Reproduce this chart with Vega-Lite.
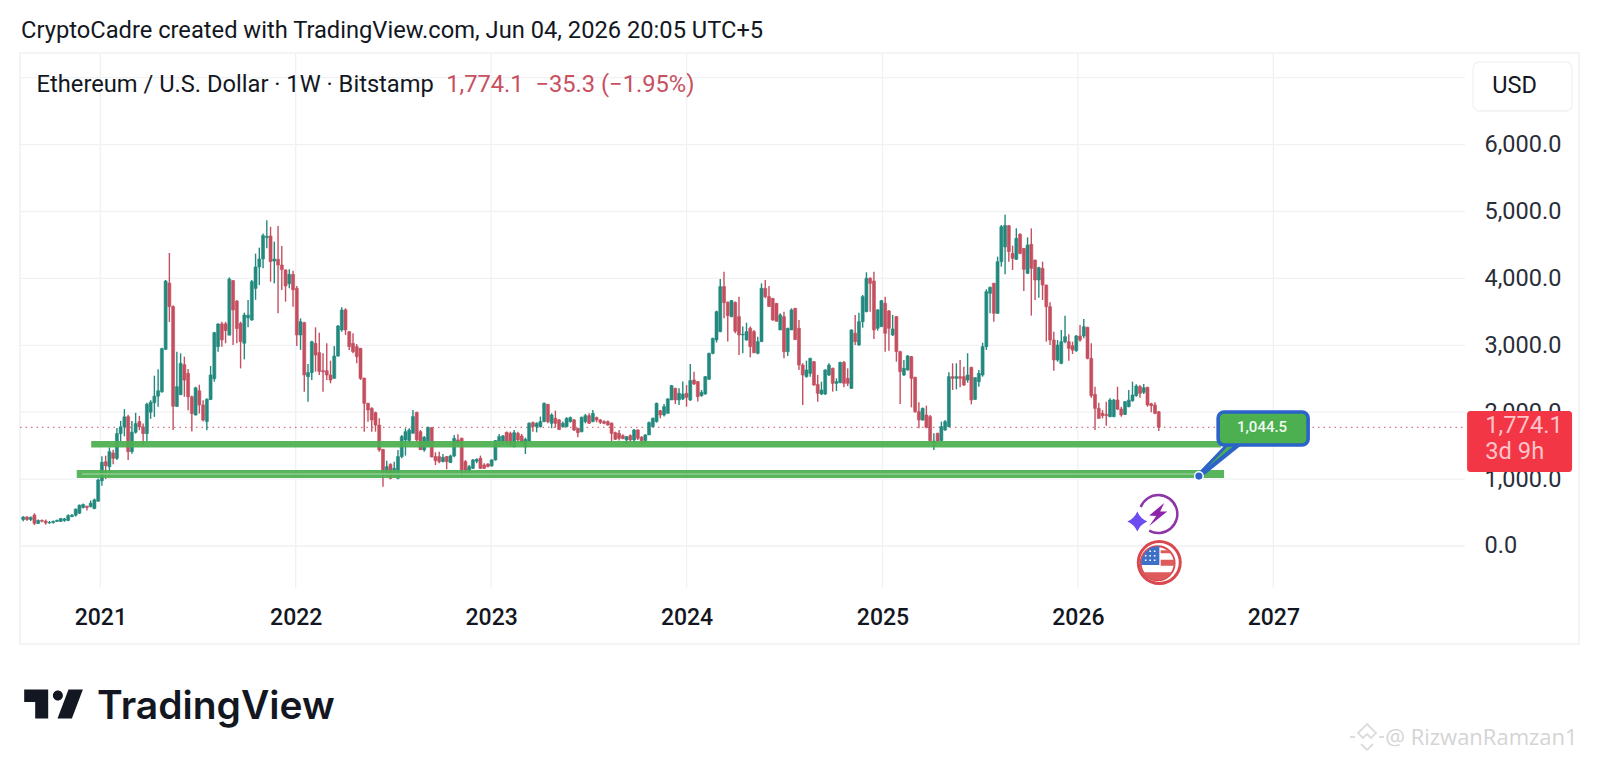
{
  "$schema": "https://vega.github.io/schema/vega-lite/v6.json",
  "width": 1559,
  "height": 591,
  "padding": {"left": 20, "top": 53, "right": 21, "bottom": 119},
  "autosize": {"type": "none"},
  "background": "#ffffff",
  "config": {
    "view": {"stroke": "#eff1f4", "strokeWidth": 1.5},
    "text": {"font": "Roboto"},
    "axis": {"labelFont": "Roboto"}
  },
  "datasets": {
    "candles": [
      {"date":"2020-08-10","open":395,"high":445,"low":370,"close":434},
      {"date":"2020-08-17","open":434,"high":445,"low":376,"close":396},
      {"date":"2020-08-24","open":396,"high":440,"low":375,"close":428},
      {"date":"2020-08-31","open":463,"high":488,"low":313,"close":338},
      {"date":"2020-09-07","open":338,"high":395,"low":330,"close":382},
      {"date":"2020-09-14","open":382,"high":395,"low":355,"close":371},
      {"date":"2020-09-21","open":371,"high":395,"low":320,"close":345},
      {"date":"2020-09-28","open":346,"high":375,"low":330,"close":352},
      {"date":"2020-10-05","open":350,"high":380,"low":335,"close":367},
      {"date":"2020-10-12","open":367,"high":394,"low":360,"close":385},
      {"date":"2020-10-19","open":368,"high":420,"low":360,"close":410},
      {"date":"2020-10-26","open":382,"high":420,"low":360,"close":405},
      {"date":"2020-11-02","open":382,"high":475,"low":370,"close":454},
      {"date":"2020-11-09","open":440,"high":480,"low":430,"close":460},
      {"date":"2020-11-16","open":460,"high":560,"low":440,"close":550},
      {"date":"2020-11-23","open":490,"high":620,"low":480,"close":610},
      {"date":"2020-11-30","open":575,"high":635,"low":560,"close":620},
      {"date":"2020-12-07","open":595,"high":600,"low":530,"close":575},
      {"date":"2020-12-14","open":590,"high":680,"low":575,"close":640},
      {"date":"2020-12-21","open":560,"high":710,"low":550,"close":690},
      {"date":"2020-12-28","open":670,"high":1010,"low":660,"close":987},
      {"date":"2021-01-04","open":975,"high":1340,"low":900,"close":1250},
      {"date":"2021-01-11","open":1260,"high":1350,"low":1000,"close":1200},
      {"date":"2021-01-18","open":1186,"high":1475,"low":1040,"close":1410},
      {"date":"2021-01-25","open":1390,"high":1440,"low":1220,"close":1310},
      {"date":"2021-02-01","open":1310,"high":1764,"low":1285,"close":1680},
      {"date":"2021-02-08","open":1680,"high":1870,"low":1560,"close":1780},
      {"date":"2021-02-15","open":1780,"high":2046,"low":1640,"close":1930},
      {"date":"2021-02-22","open":1933,"high":1960,"low":1285,"close":1410},
      {"date":"2021-03-01","open":1410,"high":1870,"low":1380,"close":1700},
      {"date":"2021-03-08","open":1700,"high":1990,"low":1680,"close":1830},
      {"date":"2021-03-15","open":1860,"high":1945,"low":1730,"close":1780},
      {"date":"2021-03-22","open":1780,"high":1830,"low":1510,"close":1680},
      {"date":"2021-03-29","open":1680,"high":2140,"low":1570,"close":2120},
      {"date":"2021-04-05","open":2000,"high":2180,"low":1900,"close":2150},
      {"date":"2021-04-12","open":2140,"high":2545,"low":1930,"close":2240},
      {"date":"2021-04-19","open":2240,"high":2640,"low":2080,"close":2320},
      {"date":"2021-04-26","open":2306,"high":2964,"low":2290,"close":2950},
      {"date":"2021-05-03","open":2940,"high":3976,"low":2930,"close":3960},
      {"date":"2021-05-10","open":3930,"high":4380,"low":3350,"close":3578},
      {"date":"2021-05-17","open":3578,"high":3600,"low":1733,"close":2090},
      {"date":"2021-05-24","open":2085,"high":2905,"low":2085,"close":2382},
      {"date":"2021-05-31","open":2260,"high":2880,"low":2260,"close":2730},
      {"date":"2021-06-07","open":2710,"high":2830,"low":2230,"close":2480},
      {"date":"2021-06-14","open":2580,"high":2645,"low":2030,"close":2230},
      {"date":"2021-06-21","open":2230,"high":2250,"low":1710,"close":1980},
      {"date":"2021-06-28","open":1958,"high":2380,"low":1950,"close":2365},
      {"date":"2021-07-05","open":2320,"high":2410,"low":1980,"close":2107},
      {"date":"2021-07-12","open":2107,"high":2180,"low":1860,"close":1883},
      {"date":"2021-07-19","open":1860,"high":2210,"low":1730,"close":2192},
      {"date":"2021-07-26","open":2190,"high":2690,"low":2180,"close":2556},
      {"date":"2021-08-02","open":2500,"high":3200,"low":2456,"close":3189},
      {"date":"2021-08-09","open":2980,"high":3328,"low":2905,"close":3318},
      {"date":"2021-08-16","open":3320,"high":3353,"low":2980,"close":3080},
      {"date":"2021-08-23","open":3320,"high":3350,"low":3030,"close":3220},
      {"date":"2021-08-30","open":3150,"high":4015,"low":3154,"close":3990},
      {"date":"2021-09-06","open":3966,"high":3976,"low":3004,"close":3528},
      {"date":"2021-09-13","open":3660,"high":3677,"low":3030,"close":3250},
      {"date":"2021-09-20","open":3328,"high":3353,"low":2655,"close":3054},
      {"date":"2021-09-27","open":3030,"high":3488,"low":2790,"close":3453},
      {"date":"2021-10-04","open":3410,"high":3677,"low":3269,"close":3450},
      {"date":"2021-10-11","open":3378,"high":3976,"low":3368,"close":3951},
      {"date":"2021-10-18","open":3850,"high":4370,"low":3680,"close":4170},
      {"date":"2021-10-25","open":4170,"high":4460,"low":3900,"close":4290},
      {"date":"2021-11-01","open":4290,"high":4670,"low":4150,"close":4640},
      {"date":"2021-11-08","open":4610,"high":4868,"low":4450,"close":4630},
      {"date":"2021-11-15","open":4634,"high":4770,"low":3950,"close":4250},
      {"date":"2021-11-22","open":4260,"high":4549,"low":3926,"close":4290},
      {"date":"2021-11-29","open":4285,"high":4783,"low":3478,"close":4200},
      {"date":"2021-12-06","open":4200,"high":4484,"low":3827,"close":4130},
      {"date":"2021-12-13","open":4125,"high":4135,"low":3652,"close":3886},
      {"date":"2021-12-20","open":3920,"high":4135,"low":3852,"close":4060},
      {"date":"2021-12-27","open":4060,"high":4116,"low":3577,"close":3830},
      {"date":"2022-01-03","open":3852,"high":3886,"low":2990,"close":3154},
      {"date":"2022-01-10","open":3154,"high":3403,"low":2930,"close":3353},
      {"date":"2022-01-17","open":3338,"high":3350,"low":2307,"close":2556},
      {"date":"2022-01-24","open":2531,"high":2720,"low":2157,"close":2591},
      {"date":"2022-01-31","open":2591,"high":3069,"low":2481,"close":3054},
      {"date":"2022-02-07","open":3029,"high":3268,"low":2606,"close":2855},
      {"date":"2022-02-14","open":2890,"high":3189,"low":2556,"close":2610},
      {"date":"2022-02-21","open":2620,"high":2880,"low":2307,"close":2605},
      {"date":"2022-02-28","open":2620,"high":3029,"low":2480,"close":2556},
      {"date":"2022-03-07","open":2556,"high":2770,"low":2431,"close":2480},
      {"date":"2022-03-14","open":2506,"high":2990,"low":2500,"close":2840},
      {"date":"2022-03-21","open":2840,"high":3303,"low":2830,"close":3288},
      {"date":"2022-03-28","open":3229,"high":3568,"low":3204,"close":3528},
      {"date":"2022-04-04","open":3530,"high":3553,"low":3154,"close":3230},
      {"date":"2022-04-11","open":3204,"high":3210,"low":2930,"close":2980},
      {"date":"2022-04-18","open":3029,"high":3179,"low":2880,"close":2905},
      {"date":"2022-04-25","open":2980,"high":3019,"low":2730,"close":2830},
      {"date":"2022-05-02","open":2955,"high":2960,"low":2481,"close":2506},
      {"date":"2022-05-09","open":2510,"high":2515,"low":1709,"close":2132},
      {"date":"2022-05-16","open":2132,"high":2140,"low":1858,"close":2033},
      {"date":"2022-05-23","open":2058,"high":2073,"low":1709,"close":1883},
      {"date":"2022-05-30","open":1993,"high":2008,"low":1709,"close":1808},
      {"date":"2022-06-06","open":1808,"high":1908,"low":1410,"close":1435},
      {"date":"2022-06-13","open":1445,"high":1450,"low":887,"close":1111},
      {"date":"2022-06-20","open":1096,"high":1276,"low":1037,"close":1186},
      {"date":"2022-06-27","open":1221,"high":1236,"low":997,"close":1012},
      {"date":"2022-07-04","open":1061,"high":1261,"low":1037,"close":1161},
      {"date":"2022-07-11","open":1012,"high":1435,"low":997,"close":1336},
      {"date":"2022-07-18","open":1336,"high":1660,"low":1311,"close":1635},
      {"date":"2022-07-25","open":1585,"high":1759,"low":1351,"close":1709},
      {"date":"2022-08-01","open":1575,"high":1759,"low":1535,"close":1734},
      {"date":"2022-08-08","open":1684,"high":2033,"low":1684,"close":1934},
      {"date":"2022-08-15","open":1998,"high":2008,"low":1560,"close":1585},
      {"date":"2022-08-22","open":1709,"high":1734,"low":1435,"close":1440},
      {"date":"2022-08-29","open":1435,"high":1644,"low":1410,"close":1625},
      {"date":"2022-09-05","open":1485,"high":1784,"low":1485,"close":1774},
      {"date":"2022-09-12","open":1769,"high":1774,"low":1325,"close":1330},
      {"date":"2022-09-19","open":1336,"high":1400,"low":1211,"close":1276},
      {"date":"2022-09-26","open":1336,"high":1410,"low":1236,"close":1261},
      {"date":"2022-10-03","open":1261,"high":1375,"low":1251,"close":1325},
      {"date":"2022-10-10","open":1336,"high":1346,"low":1146,"close":1261},
      {"date":"2022-10-17","open":1246,"high":1365,"low":1246,"close":1346},
      {"date":"2022-10-24","open":1346,"high":1660,"low":1325,"close":1610},
      {"date":"2022-10-31","open":1585,"high":1670,"low":1485,"close":1535},
      {"date":"2022-11-07","open":1610,"high":1620,"low":1037,"close":1136},
      {"date":"2022-11-14","open":1261,"high":1286,"low":1111,"close":1136},
      {"date":"2022-11-21","open":1126,"high":1211,"low":1086,"close":1186},
      {"date":"2022-11-28","open":1161,"high":1301,"low":1151,"close":1286},
      {"date":"2022-12-05","open":1266,"high":1310,"low":1236,"close":1296},
      {"date":"2022-12-12","open":1311,"high":1351,"low":1151,"close":1161},
      {"date":"2022-12-19","open":1211,"high":1236,"low":1151,"close":1161},
      {"date":"2022-12-26","open":1226,"high":1236,"low":1176,"close":1186},
      {"date":"2023-01-02","open":1196,"high":1296,"low":1186,"close":1286},
      {"date":"2023-01-09","open":1286,"high":1585,"low":1276,"close":1575},
      {"date":"2023-01-16","open":1570,"high":1675,"low":1485,"close":1635},
      {"date":"2023-01-23","open":1560,"high":1660,"low":1510,"close":1645},
      {"date":"2023-01-30","open":1699,"high":1710,"low":1510,"close":1560},
      {"date":"2023-02-06","open":1684,"high":1709,"low":1485,"close":1510},
      {"date":"2023-02-13","open":1485,"high":1734,"low":1475,"close":1694},
      {"date":"2023-02-20","open":1684,"high":1709,"low":1560,"close":1585},
      {"date":"2023-02-27","open":1644,"high":1675,"low":1535,"close":1545},
      {"date":"2023-03-06","open":1480,"high":1620,"low":1375,"close":1595},
      {"date":"2023-03-13","open":1560,"high":1849,"low":1560,"close":1834},
      {"date":"2023-03-20","open":1844,"high":1859,"low":1709,"close":1784},
      {"date":"2023-03-27","open":1784,"high":1849,"low":1699,"close":1834},
      {"date":"2023-04-03","open":1784,"high":1934,"low":1769,"close":1859},
      {"date":"2023-04-10","open":1859,"high":2143,"low":1849,"close":2133},
      {"date":"2023-04-17","open":2118,"high":2123,"low":1834,"close":1859},
      {"date":"2023-04-24","open":1834,"high":1983,"low":1759,"close":1959},
      {"date":"2023-05-01","open":1909,"high":2023,"low":1769,"close":1834},
      {"date":"2023-05-08","open":1884,"high":1899,"low":1734,"close":1740},
      {"date":"2023-05-15","open":1784,"high":1859,"low":1769,"close":1834},
      {"date":"2023-05-22","open":1784,"high":1924,"low":1774,"close":1909},
      {"date":"2023-05-29","open":1859,"high":1934,"low":1844,"close":1919},
      {"date":"2023-06-05","open":1884,"high":1899,"low":1719,"close":1734},
      {"date":"2023-06-12","open":1759,"high":1769,"low":1625,"close":1694},
      {"date":"2023-06-19","open":1709,"high":1934,"low":1699,"close":1924},
      {"date":"2023-06-26","open":1859,"high":1973,"low":1834,"close":1948},
      {"date":"2023-07-03","open":1948,"high":1983,"low":1824,"close":1834},
      {"date":"2023-07-10","open":1859,"high":2033,"low":1849,"close":1983},
      {"date":"2023-07-17","open":1919,"high":1934,"low":1849,"close":1884},
      {"date":"2023-07-24","open":1884,"high":1899,"low":1824,"close":1849},
      {"date":"2023-07-31","open":1859,"high":1879,"low":1819,"close":1834},
      {"date":"2023-08-07","open":1859,"high":1874,"low":1799,"close":1809},
      {"date":"2023-08-14","open":1834,"high":1849,"low":1560,"close":1684},
      {"date":"2023-08-21","open":1694,"high":1709,"low":1585,"close":1595},
      {"date":"2023-08-28","open":1684,"high":1734,"low":1575,"close":1610},
      {"date":"2023-09-04","open":1649,"high":1669,"low":1595,"close":1605},
      {"date":"2023-09-11","open":1585,"high":1644,"low":1525,"close":1635},
      {"date":"2023-09-18","open":1649,"high":1669,"low":1560,"close":1585},
      {"date":"2023-09-25","open":1585,"high":1749,"low":1560,"close":1734},
      {"date":"2023-10-02","open":1734,"high":1744,"low":1585,"close":1610},
      {"date":"2023-10-09","open":1625,"high":1644,"low":1520,"close":1575},
      {"date":"2023-10-16","open":1575,"high":1669,"low":1535,"close":1660},
      {"date":"2023-10-23","open":1660,"high":1859,"low":1660,"close":1844},
      {"date":"2023-10-30","open":1784,"high":1919,"low":1774,"close":1909},
      {"date":"2023-11-06","open":1859,"high":2143,"low":1844,"close":2133},
      {"date":"2023-11-13","open":2023,"high":2033,"low":1909,"close":1958},
      {"date":"2023-11-20","open":1958,"high":2123,"low":1934,"close":2083},
      {"date":"2023-11-27","open":1983,"high":2208,"low":1983,"close":2198},
      {"date":"2023-12-04","open":2183,"high":2407,"low":2183,"close":2397},
      {"date":"2023-12-11","open":2357,"high":2367,"low":2123,"close":2183},
      {"date":"2023-12-18","open":2183,"high":2357,"low":2108,"close":2282},
      {"date":"2023-12-25","open":2198,"high":2457,"low":2183,"close":2272},
      {"date":"2024-01-01","open":2282,"high":2407,"low":2083,"close":2223},
      {"date":"2024-01-08","open":2183,"high":2721,"low":2168,"close":2472},
      {"date":"2024-01-15","open":2482,"high":2606,"low":2407,"close":2422},
      {"date":"2024-01-22","open":2457,"high":2467,"low":2158,"close":2232},
      {"date":"2024-01-29","open":2247,"high":2332,"low":2232,"close":2297},
      {"date":"2024-02-05","open":2272,"high":2541,"low":2262,"close":2531},
      {"date":"2024-02-12","open":2492,"high":2890,"low":2482,"close":2880},
      {"date":"2024-02-19","open":2880,"high":3114,"low":2865,"close":3104},
      {"date":"2024-02-26","open":3080,"high":3518,"low":3040,"close":3503},
      {"date":"2024-03-04","open":3204,"high":3991,"low":3194,"close":3877},
      {"date":"2024-03-11","open":3877,"high":4101,"low":3403,"close":3638},
      {"date":"2024-03-18","open":3643,"high":3653,"low":3055,"close":3443},
      {"date":"2024-03-25","open":3428,"high":3678,"low":3418,"close":3668},
      {"date":"2024-04-01","open":3640,"high":3653,"low":3180,"close":3210},
      {"date":"2024-04-08","open":3428,"high":3727,"low":2855,"close":3154},
      {"date":"2024-04-15","open":3154,"high":3279,"low":2880,"close":3164},
      {"date":"2024-04-22","open":3079,"high":3338,"low":3069,"close":3204},
      {"date":"2024-04-29","open":3254,"high":3279,"low":2820,"close":2980},
      {"date":"2024-05-06","open":3204,"high":3229,"low":2880,"close":2890},
      {"date":"2024-05-13","open":2880,"high":3129,"low":2865,"close":3054},
      {"date":"2024-05-20","open":3054,"high":3926,"low":3054,"close":3852},
      {"date":"2024-05-27","open":3852,"high":3976,"low":3702,"close":3727},
      {"date":"2024-06-03","open":3727,"high":3886,"low":3577,"close":3580},
      {"date":"2024-06-10","open":3702,"high":3705,"low":3368,"close":3378},
      {"date":"2024-06-17","open":3627,"high":3630,"low":3353,"close":3360},
      {"date":"2024-06-24","open":3229,"high":3478,"low":3229,"close":3453},
      {"date":"2024-07-01","open":3428,"high":3503,"low":2805,"close":2905},
      {"date":"2024-07-08","open":2905,"high":3264,"low":2840,"close":3254},
      {"date":"2024-07-15","open":3229,"high":3553,"low":3229,"close":3528},
      {"date":"2024-07-22","open":3553,"high":3556,"low":3079,"close":3085},
      {"date":"2024-07-29","open":3254,"high":3378,"low":2631,"close":2705},
      {"date":"2024-08-05","open":2705,"high":2730,"low":2107,"close":2556},
      {"date":"2024-08-12","open":2531,"high":2770,"low":2516,"close":2631},
      {"date":"2024-08-19","open":2581,"high":2815,"low":2531,"close":2805},
      {"date":"2024-08-26","open":2755,"high":2765,"low":2396,"close":2406},
      {"date":"2024-09-02","open":2416,"high":2556,"low":2157,"close":2282},
      {"date":"2024-09-09","open":2272,"high":2456,"low":2257,"close":2332},
      {"date":"2024-09-16","open":2272,"high":2641,"low":2257,"close":2631},
      {"date":"2024-09-23","open":2556,"high":2730,"low":2541,"close":2705},
      {"date":"2024-09-30","open":2656,"high":2666,"low":2307,"close":2431},
      {"date":"2024-10-07","open":2431,"high":2506,"low":2317,"close":2456},
      {"date":"2024-10-14","open":2441,"high":2755,"low":2431,"close":2745},
      {"date":"2024-10-21","open":2745,"high":2765,"low":2371,"close":2431},
      {"date":"2024-10-28","open":2506,"high":2655,"low":2391,"close":2431},
      {"date":"2024-11-04","open":2357,"high":3239,"low":2347,"close":3229},
      {"date":"2024-11-11","open":3179,"high":3453,"low":3004,"close":3054},
      {"date":"2024-11-18","open":3004,"high":3488,"low":2994,"close":3353},
      {"date":"2024-11-25","open":3353,"high":3752,"low":3263,"close":3727},
      {"date":"2024-12-02","open":3503,"high":4091,"low":3493,"close":4001},
      {"date":"2024-12-09","open":4001,"high":4016,"low":3503,"close":3926},
      {"date":"2024-12-16","open":3961,"high":4101,"low":3094,"close":3229},
      {"date":"2024-12-23","open":3254,"high":3538,"low":3219,"close":3530},
      {"date":"2024-12-30","open":3278,"high":3677,"low":3278,"close":3667},
      {"date":"2025-01-06","open":3627,"high":3727,"low":2905,"close":3179},
      {"date":"2025-01-13","open":3513,"high":3528,"low":2920,"close":3254},
      {"date":"2025-01-20","open":3154,"high":3453,"low":3139,"close":3244},
      {"date":"2025-01-27","open":3428,"high":3438,"low":2755,"close":2905},
      {"date":"2025-02-03","open":2905,"high":2920,"low":2122,"close":2606},
      {"date":"2025-02-10","open":2556,"high":2780,"low":2541,"close":2656},
      {"date":"2025-02-17","open":2631,"high":2855,"low":2621,"close":2840},
      {"date":"2025-02-24","open":2830,"high":2840,"low":2072,"close":2506},
      {"date":"2025-03-03","open":2521,"high":2531,"low":1993,"close":2008},
      {"date":"2025-03-10","open":2008,"high":2147,"low":1759,"close":1883},
      {"date":"2025-03-17","open":1883,"high":2068,"low":1873,"close":2058},
      {"date":"2025-03-24","open":1958,"high":2098,"low":1759,"close":1774},
      {"date":"2025-03-31","open":1933,"high":1958,"low":1559,"close":1574},
      {"date":"2025-04-07","open":1544,"high":1684,"low":1435,"close":1569},
      {"date":"2025-04-14","open":1684,"high":1694,"low":1559,"close":1565},
      {"date":"2025-04-21","open":1574,"high":1858,"low":1559,"close":1784},
      {"date":"2025-04-28","open":1734,"high":1883,"low":1724,"close":1858},
      {"date":"2025-05-05","open":1784,"high":2596,"low":1774,"close":2531},
      {"date":"2025-05-12","open":2531,"high":2730,"low":2332,"close":2506},
      {"date":"2025-05-19","open":2506,"high":2730,"low":2342,"close":2531},
      {"date":"2025-05-26","open":2531,"high":2780,"low":2372,"close":2506},
      {"date":"2025-06-02","open":2531,"high":2680,"low":2391,"close":2406},
      {"date":"2025-06-09","open":2481,"high":2880,"low":2441,"close":2556},
      {"date":"2025-06-16","open":2670,"high":2680,"low":2117,"close":2182},
      {"date":"2025-06-23","open":2192,"high":2521,"low":2182,"close":2516},
      {"date":"2025-06-30","open":2456,"high":2631,"low":2382,"close":2581},
      {"date":"2025-07-07","open":2556,"high":3039,"low":2531,"close":2980},
      {"date":"2025-07-14","open":2980,"high":3837,"low":2930,"close":3802},
      {"date":"2025-07-21","open":3777,"high":3877,"low":3478,"close":3866},
      {"date":"2025-07-28","open":3926,"high":3936,"low":3353,"close":3478},
      {"date":"2025-08-04","open":3478,"high":4325,"low":3468,"close":4250},
      {"date":"2025-08-11","open":4250,"high":4798,"low":4175,"close":4773},
      {"date":"2025-08-18","open":4470,"high":4950,"low":4060,"close":4790},
      {"date":"2025-08-25","open":4788,"high":4795,"low":4250,"close":4399},
      {"date":"2025-09-01","open":4374,"high":4489,"low":4125,"close":4300},
      {"date":"2025-09-08","open":4285,"high":4748,"low":4275,"close":4599},
      {"date":"2025-09-15","open":4659,"high":4673,"low":4359,"close":4374},
      {"date":"2025-09-22","open":4449,"high":4455,"low":3811,"close":4135},
      {"date":"2025-09-29","open":4075,"high":4614,"low":4065,"close":4499},
      {"date":"2025-10-06","open":4509,"high":4748,"low":3443,"close":4150},
      {"date":"2025-10-13","open":4275,"high":4280,"low":3677,"close":3976},
      {"date":"2025-10-20","open":3976,"high":4175,"low":3712,"close":4160},
      {"date":"2025-10-27","open":4150,"high":4250,"low":3677,"close":3901},
      {"date":"2025-11-03","open":3901,"high":3905,"low":3054,"close":3577},
      {"date":"2025-11-10","open":3577,"high":3642,"low":3004,"close":3079},
      {"date":"2025-11-17","open":3079,"high":3203,"low":2620,"close":2780},
      {"date":"2025-11-24","open":2780,"high":3079,"low":2755,"close":3004},
      {"date":"2025-12-01","open":2730,"high":3228,"low":2715,"close":3054},
      {"date":"2025-12-08","open":3054,"high":3443,"low":3029,"close":3129},
      {"date":"2025-12-15","open":3054,"high":3164,"low":2770,"close":2954},
      {"date":"2025-12-22","open":2994,"high":3054,"low":2870,"close":2929},
      {"date":"2025-12-29","open":2919,"high":3154,"low":2904,"close":3139},
      {"date":"2026-01-05","open":3139,"high":3303,"low":3054,"close":3079},
      {"date":"2026-01-12","open":3139,"high":3393,"low":3104,"close":3278},
      {"date":"2026-01-19","open":3268,"high":3278,"low":2790,"close":2805},
      {"date":"2026-01-26","open":2805,"high":3029,"low":2217,"close":2247},
      {"date":"2026-02-02","open":2267,"high":2381,"low":1733,"close":2057},
      {"date":"2026-02-09","open":2057,"high":2142,"low":1898,"close":1908},
      {"date":"2026-02-16","open":1983,"high":2032,"low":1908,"close":1948},
      {"date":"2026-02-23","open":1968,"high":2157,"low":1798,"close":1948},
      {"date":"2026-03-02","open":1933,"high":2207,"low":1923,"close":2182},
      {"date":"2026-03-09","open":1933,"high":2197,"low":1923,"close":2182},
      {"date":"2026-03-16","open":2182,"high":2381,"low":2032,"close":2047},
      {"date":"2026-03-23","open":2047,"high":2082,"low":1933,"close":1958},
      {"date":"2026-03-30","open":1968,"high":2167,"low":1958,"close":2157},
      {"date":"2026-04-06","open":2082,"high":2331,"low":2072,"close":2182},
      {"date":"2026-04-13","open":2172,"high":2456,"low":2157,"close":2257},
      {"date":"2026-04-20","open":2247,"high":2416,"low":2232,"close":2391},
      {"date":"2026-04-27","open":2381,"high":2406,"low":2217,"close":2282},
      {"date":"2026-05-04","open":2296,"high":2421,"low":2271,"close":2366},
      {"date":"2026-05-11","open":2371,"high":2381,"low":2082,"close":2107},
      {"date":"2026-05-18","open":2127,"high":2142,"low":1998,"close":2097},
      {"date":"2026-05-25","open":2107,"high":2147,"low":1968,"close":1983},
      {"date":"2026-06-01","open":2007,"high":2017,"low":1719,"close":1774.1}
    ]
  },
  "encoding": {
    "x": {
      "field": "date",
      "type": "temporal",
      "title": null,
      "scale": {"type": "utc", "domain": ["2020-08-04", "2028-07-25"], "padding": 0},
      "axis": {
        "values": ["2021-01-01", "2022-01-01", "2023-01-01", "2024-01-01", "2025-01-01", "2026-01-01", "2027-01-01"],
        "format": "%Y",
        "orient": "bottom",
        "offset": -27,
        "grid": false,
        "domain": false,
        "ticks": false,
        "labelPadding": 0,
        "labelBaseline": "middle",
        "labelFontSize": 23,
        "labelFontWeight": 500,
        "labelColor": "#131722"
      }
    },
    "y": {
      "field": "price",
      "type": "quantitative",
      "title": null,
      "scale": {"domain": [-1465, 7369], "nice": false, "zero": false},
      "axis": {
        "values": [0, 1000, 2000, 3000, 4000, 5000, 6000],
        "format": ",.1f",
        "orient": "right",
        "offset": -114,
        "grid": false,
        "domain": false,
        "ticks": false,
        "labelPadding": 19,
        "labelAlign": "left",
        "labelFontSize": 23.5,
        "labelColor": "#2a2e39"
      }
    }
  },
  "layer": [
    {
      "data": {"values": [
        {"date": "2020-08-04", "date2": "2027-12-25", "price": 0},
        {"date": "2020-08-04", "date2": "2027-12-25", "price": 1000},
        {"date": "2020-08-04", "date2": "2027-12-25", "price": 2000},
        {"date": "2020-08-04", "date2": "2027-12-25", "price": 3000},
        {"date": "2020-08-04", "date2": "2027-12-25", "price": 4000},
        {"date": "2020-08-04", "date2": "2027-12-25", "price": 5000},
        {"date": "2020-08-04", "date2": "2027-12-25", "price": 6000},
        {"date": "2020-08-04", "date2": "2027-12-25", "price": 7000}
      ]},
      "mark": {"type": "rule", "color": "#f0f1f3", "strokeWidth": 1.3},
      "encoding": {"x2": {"field": "date2"}}
    },
    {
      "data": {"values": [
        {"date": "2021-01-01", "price": -628, "price2": 7369},
        {"date": "2022-01-01", "price": -628, "price2": 7369},
        {"date": "2023-01-01", "price": -628, "price2": 7369},
        {"date": "2024-01-01", "price": -628, "price2": 7369},
        {"date": "2025-01-01", "price": -628, "price2": 7369},
        {"date": "2026-01-01", "price": -628, "price2": 7369},
        {"date": "2027-01-01", "price": -628, "price2": 7369}
      ]},
      "mark": {"type": "rule", "color": "#f0f1f3", "strokeWidth": 1.3},
      "encoding": {"y2": {"field": "price2"}}
    },
    {
      "data": {"values": [{"date": "2020-08-04", "date2": "2027-12-25", "price": 1774.1}]},
      "mark": {"type": "rule", "color": "#c8505f", "strokeWidth": 1, "strokeDash": [1.5, 4]},
      "encoding": {"x2": {"field": "date2"}}
    },
    {
      "data": {"name": "candles"},
      "mark": {"type": "rule", "strokeWidth": 1.4},
      "encoding": {
        "y": {"field": "low", "type": "quantitative", "title": null},
        "y2": {"field": "high"},
        "color": {"condition": {"test": "datum.close >= datum.open", "value": "#23897e"}, "value": "#c44f5f"}
      }
    },
    {
      "data": {"name": "candles"},
      "mark": {"type": "bar", "width": 3, "strokeWidth": 0.6},
      "encoding": {
        "y": {"field": "open", "type": "quantitative", "title": null},
        "y2": {"field": "close"},
        "color": {"condition": {"test": "datum.close >= datum.open", "value": "#23897e"}, "value": "#c44f5f"},
        "stroke": {"condition": {"test": "datum.close >= datum.open", "value": "#23897e"}, "value": "#c44f5f"}
      }
    },
    {
      "data": {"values": [
        {"date": "2020-12-15", "date2": "2026-09-25", "price": 1570, "price2": 1472},
        {"date": "2020-11-18", "date2": "2026-10-01", "price": 1136, "price2": 1016}
      ]},
      "mark": {"type": "rect", "color": "#4caf50", "opacity": 0.93},
      "encoding": {"x2": {"field": "date2"}, "y2": {"field": "price2"}}
    },
    {
      "data": {"values": [{"date": "2020-11-28", "date2": "2026-08-15", "price": 1076}]},
      "mark": {"type": "rule", "color": "#a9d8ab", "strokeWidth": 1},
      "encoding": {"x2": {"field": "date2"}}
    },
    {
      "data": {"values": [{"date": "2026-08-15", "price": 1044.5}]},
      "layer": [
        {"mark": {"type": "point", "filled": true, "opacity": 1, "size": 4, "color": "#2b63c9", "shape": "M-1,-3 L27,-32 L44,-32 L3,1 Z"}},
        {"mark": {"type": "point", "filled": true, "opacity": 1, "size": 4, "color": "#4caf50", "shape": "M9,-9 L31,-32 L37,-32 Z"}},
        {"mark": {"type": "point", "filled": true, "opacity": 1, "size": 75, "color": "#2b63c9", "stroke": "#ffffff", "strokeWidth": 1.5, "shape": "circle"}}
      ]
    },
    {
      "data": {"values": [{"date": "2026-09-20", "date2": "2027-03-07", "price": 2003, "price2": 1510}]},
      "mark": {"type": "rect", "color": "#4caf50", "stroke": "#2b63c9", "strokeWidth": 3.6, "cornerRadius": 6},
      "encoding": {"x2": {"field": "date2"}, "y2": {"field": "price2"}}
    },
    {
      "data": {"values": [{"date": "2026-12-11", "price": 1779, "label": "1,044.5"}]},
      "mark": {"type": "text", "align": "center", "baseline": "middle", "fontSize": 15, "fontWeight": 500, "color": "#f2fbf2"},
      "encoding": {"text": {"field": "label"}}
    },
    {
      "data": {"values": [{"date": "2027-12-29", "date2": "2028-07-12", "price": 2018, "price2": 1106}]},
      "mark": {"type": "rect", "color": "#f23645", "cornerRadius": 3},
      "encoding": {"x2": {"field": "date2"}, "y2": {"field": "price2"}}
    },
    {
      "data": {"values": [
        {"date": "2028-02-01", "price": 1794, "label": "1,774.1"},
        {"date": "2028-02-01", "price": 1405, "label": "3d 9h"}
      ]},
      "mark": {"type": "text", "align": "left", "baseline": "middle", "fontSize": 23.7, "color": "#ffc4c9"},
      "encoding": {"text": {"field": "label"}}
    },
    {
      "data": {"values": [{"date": "2028-01-09", "date2": "2028-07-12", "price": 7235, "price2": 6502}]},
      "mark": {"type": "rect", "color": "#ffffff", "stroke": "#f0f1f3", "strokeWidth": 1.3, "cornerRadius": 6},
      "encoding": {"x2": {"field": "date2"}, "y2": {"field": "price2"}}
    },
    {
      "data": {"values": [{"date": "2028-02-14", "price": 6875, "label": "USD"}]},
      "mark": {"type": "text", "align": "left", "baseline": "middle", "fontSize": 23.5, "color": "#131722"},
      "encoding": {"text": {"field": "label"}}
    },
    {
      "data": {"values": [{"date": "2020-08-06", "price": 7698, "label": "CryptoCadre created with TradingView.com, Jun 04, 2026 20:05 UTC+5"}]},
      "mark": {"type": "text", "align": "left", "baseline": "middle", "fontSize": 23.7, "color": "#131722"},
      "encoding": {"text": {"field": "label"}}
    },
    {
      "data": {"values": [{"date": "2020-09-04", "price": 6890, "label": "Ethereum / U.S. Dollar · 1W · Bitstamp"}]},
      "mark": {"type": "text", "align": "left", "baseline": "middle", "fontSize": 23.7, "color": "#131722"},
      "encoding": {"text": {"field": "label"}}
    },
    {
      "data": {"values": [{"date": "2022-10-09", "price": 6890, "label": "1,774.1\u00a0\u00a0−35.3 (−1.95%)"}]},
      "mark": {"type": "text", "align": "left", "baseline": "middle", "fontSize": 23.7, "color": "#c8505f"},
      "encoding": {"text": {"field": "label"}}
    },
    {
      "data": {"values": [{"date": "2020-10-05", "price": -2362}]},
      "mark": {"type": "point", "filled": true, "opacity": 1, "size": 4, "color": "#131722", "shape": "M-29,-14.5 L-5,-14.5 L-5,14.5 L-18,14.5 L-18,-2 L-29,-2 Z M-0.3,-8.5 a5,5 0 1,0 10,0 a5,5 0 1,0 -10,0 Z M15.3,-14.5 L29.7,-14.5 L18.7,14.5 L4.3,14.5 Z"}
    },
    {
      "data": {"values": [{"date": "2020-12-26", "price": -2400, "label": "TradingView"}]},
      "mark": {"type": "text", "align": "left", "baseline": "middle", "fontSize": 39, "fontWeight": 600, "font": "Inter", "color": "#131722"},
      "encoding": {"text": {"field": "label"}}
    },
    {
      "data": {"values": [{"date": "2026-05-31", "price": 478}]},
      "layer": [
        {"mark": {"type": "point", "filled": false, "opacity": 1, "size": 4, "color": "#8e35a8", "strokeWidth": 2.5, "shape": "M-17.5,-7 A19,19 0 1,1 -9,16.7"}},
        {"mark": {"type": "point", "filled": true, "opacity": 1, "size": 4, "color": "#8e24aa", "shape": "M6,-11 L-9,1.5 L-2,2 L-9,12 L9,-2.5 L2,-2.5 Z"}}
      ]
    },
    {
      "data": {"values": [{"date": "2026-04-22", "price": 365}]},
      "mark": {"type": "point", "filled": true, "opacity": 1, "size": 4, "color": "#6c4cf0", "shape": "M0,-10 Q3,-3 10,0 Q3,3 0,10 Q-3,3 -10,0 Q-3,-3 0,-10 Z"}
    },
    {
      "data": {"values": [{"date": "2026-06-02", "price": -248}]},
      "mark": {"type": "point", "filled": true, "opacity": 1, "size": 1764, "color": "#ffffff", "stroke": "#d9484f", "strokeWidth": 3, "shape": "circle"}
    },
    {
      "data": {"values": [{"date": "2026-05-30", "price": -258}]},
      "layer": [
        {"mark": {"type": "point", "filled": true, "opacity": 1, "size": 1156, "color": "#ffffff", "stroke": "#d9484f", "strokeWidth": 1.8, "shape": "circle"}},
        {"mark": {"type": "point", "filled": true, "opacity": 1, "size": 4, "color": "#dd5b5b", "shape": "M3,-13 L11,-13 L13.5,-10 L3,-10 Z M3,-3.5 L16.5,-3.5 A17,17 0 0 1 16.8,2.4 L3,2.4 Z M-14.3,9 L14.3,9 A17,17 0 0 1 -14.3,9 Z"}},
        {"mark": {"type": "point", "filled": true, "opacity": 1, "size": 4, "color": "#3d70c6", "shape": "M1.7,-16.9 L1.7,1.7 L-16.5,1.7 A17,17 0 0 1 1.7,-16.9 Z"}},
        {"mark": {"type": "point", "filled": true, "opacity": 1, "size": 4, "color": "#ffffff", "shape": "M-3.8,-12.8h1.6v1.6h-1.6z M-3.8,-8.3h1.6v1.6h-1.6z M-3.8,-3.8h1.6v1.6h-1.6z M-8.3,-8.3h1.6v1.6h-1.6z M-8.3,-3.8h1.6v1.6h-1.6z M-12.8,-3.8h1.6v1.6h-1.6z M-8.3,-12.8h1.6v1.6h-1.6z M-12.8,-8.3h1.6v1.6h-1.6z"}}
      ]
    },
    {
      "data": {"values": [{"date": "2027-06-25", "price": -2855}]},
      "mark": {"type": "point", "filled": false, "opacity": 1, "size": 4, "color": "#dcdcdc", "strokeWidth": 1.8, "shape": "M0,-13 L9,-4 L4,1 L0,-3 L-4,1 L-9,-4 Z M-12,0 L-17,0 M0,13 L-6,7 M0,13 L6,7 M12,0 L17,0"}
    },
    {
      "data": {"values": [{"date": "2027-07-29", "price": -2870, "label": "@ RizwanRamzan1"}]},
      "mark": {"type": "text", "align": "left", "baseline": "middle", "fontSize": 22, "font": "Open Sans", "color": "#d4d4d4"},
      "encoding": {"text": {"field": "label"}}
    }
  ]
}
